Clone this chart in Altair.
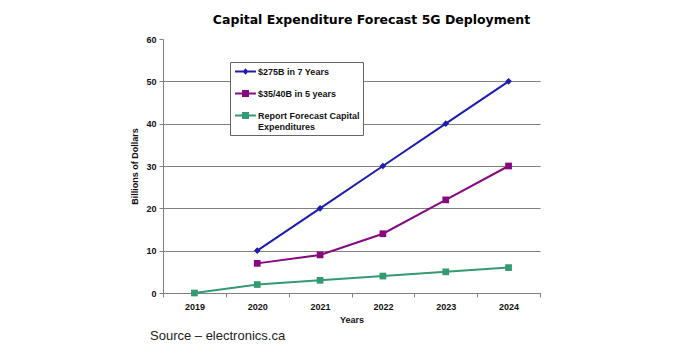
import altair as alt
import pandas as pd

title_text = "Capital Expenditure Forecast 5G Deployment"
source_text = "Source \u2013 electronics.ca"
years = ["2019", "2020", "2021", "2022", "2023", "2024"]
series_names = ["$275B in 7 Years", "$35/40B in 5 years", "Report Forecast Capital Expenditures"]
s1_years = ["2020", "2021", "2022", "2023", "2024"]
s1_values = [10, 20, 30, 40, 50]
s2_years = ["2020", "2021", "2022", "2023", "2024"]
s2_values = [7, 9, 14, 22, 30]
s3_years = ["2019", "2020", "2021", "2022", "2023", "2024"]
s3_values = [0, 2, 3, 4, 5, 6]
y_ticks = [0, 10, 20, 30, 40, 50, 60]
colors = ["#1c1cae", "#86097f", "#349a72"]
point_shapes = ["diamond", "square", "square"]
legend_shapes = [
    "M-1.65,-0.16H1.65V0.16H-1.65Z M0,-0.5L0.45,0L0,0.5L-0.45,0Z",
    "M-1.65,-0.16H1.65V0.16H-1.65Z M-0.55,-0.55H0.55V0.55H-0.55Z",
    "M-1.65,-0.16H1.65V0.16H-1.65Z M-0.55,-0.55H0.55V0.55H-0.55Z",
]

rows = []
for name, ys, vs in zip(series_names, [s1_years, s2_years, s3_years], [s1_values, s2_values, s3_values]):
    for yr, v in zip(ys, vs):
        rows.append({"Year": yr, "Series": name, "Value": v})
df = pd.DataFrame(rows)

FONT = "Liberation Sans"

x_enc = alt.X(
    "Year:O",
    scale=alt.Scale(type="band", domain=years, paddingInner=0, paddingOuter=0),
    axis=alt.Axis(
        title="Years", labelAngle=0, tickBand="extent", grid=False,
        domainColor="#808080", tickColor="#808080", tickSize=4,
        labelFont=FONT, labelFontWeight="bold", labelFontSize=9, labelColor="#111",
        labelPadding=5, titleFont=FONT, titleFontWeight="bold", titleFontSize=9,
        titleColor="#111", titlePadding=4,
    ),
)
y_enc = alt.Y(
    "Value:Q",
    scale=alt.Scale(domain=[0, 60]),
    axis=alt.Axis(
        title="Billions of Dollars", values=y_ticks,
        domainColor="#808080", tickColor="#808080", tickSize=4,
        gridColor="#808080", gridWidth=1.2,
        gridOpacity={"condition": {"test": "datum.value === 60", "value": 0}, "value": 1},
        labelFont=FONT, labelFontWeight="bold", labelFontSize=9, labelColor="#111",
        labelPadding=3, titleFont=FONT, titleFontWeight="bold", titleFontSize=9,
        titleColor="#111", titlePadding=6,
    ),
)
color_scale = alt.Scale(domain=series_names, range=colors)

base = alt.Chart(df)
lines = base.mark_line(strokeWidth=2).encode(
    x=x_enc, y=y_enc,
    color=alt.Color("Series:N", scale=color_scale, legend=None),
    detail="Series:N",
)
points = base.mark_point(filled=True, size=45, opacity=1).encode(
    x=x_enc, y=y_enc,
    color=alt.Color("Series:N", scale=color_scale, legend=None),
    shape=alt.Shape("Series:N", scale=alt.Scale(domain=series_names, range=point_shapes), legend=None),
)
legend = alt.Legend(
    title=None, orient="none", legendX=67, legendY=23,
    fillColor="white", strokeColor="#666", padding=3,
    symbolSize=160, symbolStrokeWidth=0, symbolOpacity=1, symbolOffset=6,
    labelFont=FONT, labelFontWeight="bold", labelFontSize=9, labelColor="#111",
    labelLimit=300, labelOffset=6, rowPadding=10,
    labelExpr="datum.label == 'Report Forecast Capital Expenditures' ? ['Report Forecast Capital', 'Expenditures'] : datum.label",
)
legend_layer = base.mark_point(filled=True, opacity=0).encode(
    x=x_enc, y=y_enc,
    color=alt.Color("Series:N", scale=color_scale, legend=legend),
    shape=alt.Shape("Series:N", scale=alt.Scale(domain=series_names, range=legend_shapes), legend=legend),
)
src = alt.Chart(pd.DataFrame({"t": [source_text]})).mark_text(
    align="left", baseline="middle", font=FONT, fontSize=13, color="#222"
).encode(text="t:N", x=alt.value(-13), y=alt.value(297))

chart = alt.layer(lines, points, legend_layer, src).resolve_scale(
    color="independent", shape="independent"
).properties(
    width=377, height=254,
    title=alt.TitleParams(title_text, font="DejaVu Sans", fontSize=12.5, fontWeight="bold", color="#000",
                          anchor="middle", dx=20, offset=9),
    autosize=alt.AutoSizeParams(type="none"),
    padding={"left": 163, "top": 39, "right": 150, "bottom": 57},
    background="white",
).configure_view(stroke=None)

chart.save("out.html", embed_options={"renderer": "svg", "actions": False})
